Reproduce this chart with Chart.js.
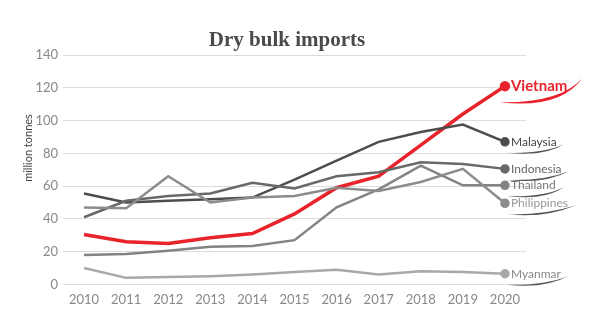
<!DOCTYPE html>
<html>
<head>
<meta charset="utf-8">
<script src="https://cdn.jsdelivr.net/npm/chart.js@4.4.0/dist/chart.umd.min.js"></script>
<style>
  html, body { margin: 0; padding: 0; background: #fff; }
  #wrap { width: 600px; height: 328px; }
</style>
</head>
<body>
<div id="wrap"><canvas id="bulkChart" width="600" height="328"></canvas></div>
<script>
// million tonnes per year
const years = ['2010', '2011', '2012', '2013', '2014', '2015', '2016', '2017', '2018', '2019', '2020'];
const vietnam     = [30.5, 26, 25, 28.5, 31, 43, 59, 66, 85, 104, 121];
const malaysia    = [55.5, 50, 51, 52, 53, 64, 75.5, 87, 93, 97.5, 87];
const indonesia   = [41, 51, 54, 55.5, 62, 58.5, 66, 68.5, 74.5, 73.5, 70.5];
const thailand    = [18, 18.5, 20.5, 23, 23.5, 27, 47, 58, 72.5, 60.5, 60.5];
const philippines = [47, 46.5, 66, 50, 53, 54, 59, 57, 62.5, 70.5, 49.5];
const myanmar     = [10, 4, 4.5, 5, 6, 7.5, 9, 6, 8, 7.5, 6.5];
const yMin = 0, yMax = 140, yStep = 20;

const labelFont = '12px Lato';

function series(label, data, color, width, textColor, font) {
  return {
    label,
    data,
    borderColor: color,
    backgroundColor: color,
    borderWidth: width,
    tension: 0,
    fill: false,
    pointRadius: c => (c.dataIndex === data.length - 1 ? 3.5 : 0),
    pointHoverRadius: 0,
    labelColor: textColor,
    labelFont: font || labelFont
  };
}

// brush-like underline: a thin crescent between two quadratic curves
function swoosh(ctx, x0, y0, cx, cy, x1, y1, thick, color) {
  ctx.beginPath();
  ctx.moveTo(x0, y0);
  ctx.quadraticCurveTo(cx, cy, x1, y1);
  ctx.quadraticCurveTo(cx, cy + thick * 2, x0, y0);
  ctx.closePath();
  ctx.fillStyle = color;
  ctx.fill();
}

const endLabels = {
  id: 'endLabels',
  afterDatasetsDraw(chart) {
    const ctx = chart.ctx;
    chart.data.datasets.forEach((ds, i) => {
      const meta = chart.getDatasetMeta(i);
      const pt = meta.data[meta.data.length - 1];
      const px = pt.x, py = pt.y;
      ctx.save();
      ctx.font = ds.labelFont;
      ctx.fillStyle = ds.labelColor;
      ctx.textBaseline = 'middle';
      ctx.textAlign = 'left';
      const tx = px + 6;
      ctx.fillText(ds.label, tx, py);
      const w = ctx.measureText(ds.label).width;
      if (ds.label === 'Vietnam') {
        swoosh(ctx, px - 5, py + 16, px + 55, py + 17, tx + w + 15, py - 8, 3, ds.borderColor);
      } else {
        swoosh(ctx, px + 2, py + 11, px + 40, py + 12, tx + w + 8, py + 2, 1.6, '#555');
      }
      ctx.restore();
    });

    // title and y axis caption
    ctx.save();
    ctx.font = 'bold 21px "Liberation Serif"';
    ctx.fillStyle = '#4a4a4a';
    ctx.textAlign = 'center';
    ctx.textBaseline = 'alphabetic';
    ctx.fillText('Dry bulk imports', 287, 46);

    ctx.font = '11px Lato';
    ctx.fillStyle = '#444';
    ctx.textBaseline = 'middle';
    ctx.translate(28, 148);
    ctx.rotate(-Math.PI / 2);
    ctx.fillText('million tonnes', 0, 0);
    ctx.restore();
  }
};

const ctx = document.getElementById('bulkChart').getContext('2d');
new Chart(ctx, {
  type: 'line',
  data: {
    labels: years,
    datasets: [
      series('Myanmar', myanmar, '#a8a8a8', 2.5, '#888'),
      series('Philippines', philippines, '#8c8c8c', 2.5, '#999'),
      series('Thailand', thailand, '#838383', 2.5, '#777'),
      series('Indonesia', indonesia, '#686868', 2.5, '#666'),
      series('Malaysia', malaysia, '#4d4d4d', 2.5, '#444'),
      series('Vietnam', vietnam, '#e8232b', 3.5, '#e8232b', 'bold 15px Lato')
    ]
  },
  options: {
    responsive: false,
    animation: false,
    layout: { padding: { left: 23, right: 74, top: 55, bottom: 12 } },
    plugins: {
      legend: { display: false },
      tooltip: { enabled: false },
      title: { display: false }
    },
    scales: {
      x: {
        type: 'category',
        offset: true,
        grid: { display: false, drawTicks: false },
        border: { display: false },
        ticks: { color: '#888', font: { family: 'Lato', size: 13 }, padding: 8 }
      },
      y: {
        min: yMin,
        max: yMax,
        afterFit: s => { s.width = 40; },
        grid: { color: '#dcdcdc', lineWidth: 1, drawTicks: false },
        border: { display: false },
        ticks: { stepSize: yStep, color: '#888', font: { family: 'Lato', size: 13 }, padding: 5 }
      }
    }
  },
  plugins: [endLabels]
});
</script>
</body>
</html>
